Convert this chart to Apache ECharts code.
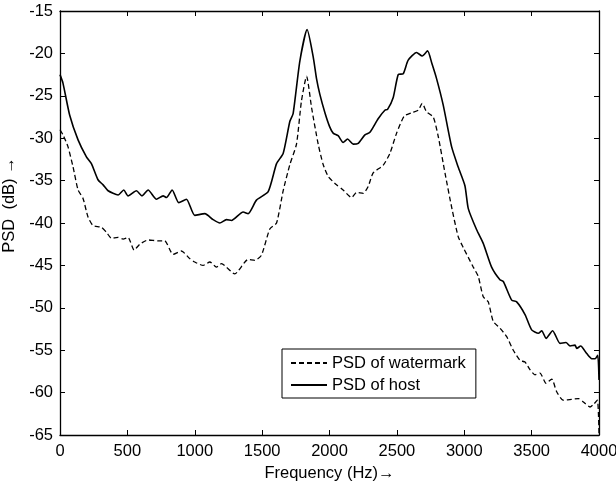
<!DOCTYPE html>
<html>
<head>
<meta charset="utf-8">
<script src="https://cdn.jsdelivr.net/npm/echarts@6/dist/echarts.min.js"></script>
<style>html,body{margin:0;padding:0;background:#fff;}#c{width:616px;height:481px;}</style>
</head>
<body>
<div id="c"></div>
<script>
var hostFreq = [0, 22, 72, 134, 196, 233, 282, 320, 357, 431, 473, 505, 567, 609, 654, 716, 765, 790, 832, 881, 938, 1000, 1075, 1136, 1186, 1235, 1273, 1359, 1396, 1458, 1545, 1607, 1656, 1706, 1730, 1780, 1834, 1879, 1904, 1928, 1966, 2000, 2027, 2064, 2101, 2134, 2176, 2213, 2263, 2300, 2361, 2411, 2431, 2473, 2510, 2547, 2584, 2646, 2688, 2728, 2760, 2795, 2844, 2906, 2955, 3005, 3030, 3092, 3141, 3203, 3265, 3290, 3352, 3389, 3451, 3500, 3550, 3575, 3607, 3656, 3711, 3755, 3785, 3822, 3835, 3864, 3909, 3946, 3971, 3991, 4000];
var hostPSD = [-22.5, -23.5, -27.3, -30.2, -32.2, -33.0, -34.9, -35.5, -36.2, -36.7, -36.1, -36.8, -36.2, -36.8, -36.1, -37.2, -36.8, -37.0, -36.1, -37.6, -37.2, -39.1, -38.9, -39.6, -40.0, -39.6, -39.7, -38.7, -38.9, -37.3, -36.3, -33.0, -31.8, -28.0, -27.1, -20.9, -17.2, -20.4, -23.0, -24.8, -27.0, -28.6, -29.4, -29.7, -30.5, -30.1, -30.7, -30.6, -29.6, -29.3, -27.7, -26.7, -26.6, -25.2, -22.5, -22.4, -20.8, -19.9, -20.3, -19.7, -21.2, -23.0, -26.1, -31.0, -33.4, -35.6, -38.3, -40.8, -42.4, -45.2, -46.7, -46.9, -49.1, -49.3, -50.8, -52.6, -53.0, -52.7, -53.6, -52.7, -54.2, -54.1, -54.5, -54.4, -54.8, -54.5, -55.4, -56.0, -56.0, -55.6, -58.5];
var wmFreq = [0, 22, 59, 97, 134, 171, 208, 245, 307, 345, 382, 431, 468, 505, 550, 592, 654, 728, 777, 839, 901, 963, 1000, 1062, 1112, 1161, 1198, 1297, 1396, 1446, 1495, 1557, 1607, 1656, 1706, 1755, 1792, 1830, 1867, 1916, 1953, 1990, 2052, 2101, 2164, 2201, 2250, 2287, 2324, 2398, 2448, 2498, 2554, 2609, 2658, 2688, 2721, 2770, 2807, 2857, 2906, 2955, 2993, 3067, 3104, 3141, 3178, 3215, 3265, 3315, 3364, 3414, 3451, 3488, 3525, 3562, 3607, 3649, 3686, 3735, 3797, 3847, 3884, 3933, 3958, 3988, 4000];
var wmPSD = [-29.0, -29.6, -31.0, -33.4, -36.1, -37.1, -39.3, -40.3, -40.5, -41.1, -41.8, -41.7, -41.9, -41.7, -43.2, -42.5, -42.0, -42.1, -42.1, -43.7, -43.3, -44.2, -44.6, -45.0, -44.6, -45.2, -44.8, -46.0, -44.3, -44.4, -43.8, -40.7, -40.0, -36.2, -33.1, -30.7, -25.6, -22.7, -26.4, -30.7, -33.1, -34.5, -35.5, -36.1, -37.0, -36.4, -36.5, -35.7, -34.1, -33.2, -31.8, -29.4, -27.4, -27.0, -26.7, -25.9, -26.9, -27.5, -29.8, -34.1, -38.1, -41.6, -42.9, -45.2, -46.3, -48.7, -49.3, -51.6, -52.4, -53.4, -55.0, -56.2, -56.4, -57.3, -57.9, -57.7, -58.9, -58.4, -59.9, -60.9, -60.8, -60.7, -61.1, -61.7, -61.4, -60.9, -64.8];
var xTicks = {min: 0, max: 4000, interval: 500};
var yTicks = {min: -65, max: -15, interval: 5};
var seriesNames = ['PSD of watermark', 'PSD of host'];
var xTitle = 'Frequency (Hz)\u2192';
var yTitle = 'PSD  (dB) \u2192';

function pairs(xs, ys) { return xs.map(function (x, i) { return [x, ys[i]]; }); }
function plain(v) { return String(v); }

var FONT = "'Liberation Sans', Arial, Helvetica, sans-serif";
var axisLine = {show: true, onZero: false, lineStyle: {color: '#000', width: 1.3}};
var tick = {show: true, inside: true, length: 5, lineStyle: {color: '#000', width: 1}};

var chart = echarts.init(document.getElementById('c'), null, {renderer: 'canvas'});
chart.setOption({
  animation: false,
  backgroundColor: '#fff',
  textStyle: {fontFamily: FONT},
  grid: {left: 60, right: 17, top: 11, bottom: 46, containLabel: false, outerBoundsMode: 'none'},
  legend: {
    left: 282, top: 349, orient: 'vertical',
    data: seriesNames,
    itemWidth: 36, itemHeight: 14, itemGap: 4,
    padding: [5, 10, 4, 8],
    borderColor: '#000', borderWidth: 1, backgroundColor: '#fff',
    itemStyle: {opacity: 0},
    textStyle: {fontFamily: FONT, fontSize: 16.5, color: '#000', lineHeight: 18}
  },
  xAxis: [{
    type: 'value', position: 'bottom', min: xTicks.min, max: xTicks.max, interval: xTicks.interval,
    axisLine: axisLine, axisTick: tick, splitLine: {show: false},
    axisLabel: {color: '#000', fontSize: 16.5, fontFamily: FONT, margin: 8, formatter: plain},
    name: xTitle, nameLocation: 'middle', nameGap: 27,
    nameTextStyle: {color: '#000', fontSize: 16.5, fontFamily: FONT}
  }, {
    type: 'value', position: 'top', min: xTicks.min, max: xTicks.max, interval: xTicks.interval,
    axisLine: axisLine, axisTick: tick, splitLine: {show: false}, axisLabel: {show: false}
  }],
  yAxis: [{
    type: 'value', position: 'left', min: yTicks.min, max: yTicks.max, interval: yTicks.interval,
    axisLine: axisLine, axisTick: tick, splitLine: {show: false},
    axisLabel: {color: '#000', fontSize: 16.5, fontFamily: FONT, margin: 7, formatter: plain},
    name: yTitle, nameLocation: 'middle', nameGap: 30,
    nameTextStyle: {color: '#000', fontSize: 16.5, fontFamily: FONT, padding: [0, 0, 0, 36]}
  }, {
    type: 'value', position: 'right', min: yTicks.min, max: yTicks.max, interval: yTicks.interval,
    axisLine: axisLine, axisTick: tick, splitLine: {show: false}, axisLabel: {show: false}
  }],
  series: [{
    name: seriesNames[0], type: 'line', xAxisIndex: 0, yAxisIndex: 0,
    data: pairs(wmFreq, wmPSD), symbol: 'none', smooth: 0.2,
    lineStyle: {color: '#000', width: 1.3, type: [5, 3]}, itemStyle: {color: '#000'}
  }, {
    name: seriesNames[1], type: 'line', xAxisIndex: 0, yAxisIndex: 0,
    data: pairs(hostFreq, hostPSD), symbol: 'none', smooth: 0.2,
    lineStyle: {color: '#000', width: 1.6, type: 'solid'}, itemStyle: {color: '#000'}
  }]
});
</script>
</body>
</html>
